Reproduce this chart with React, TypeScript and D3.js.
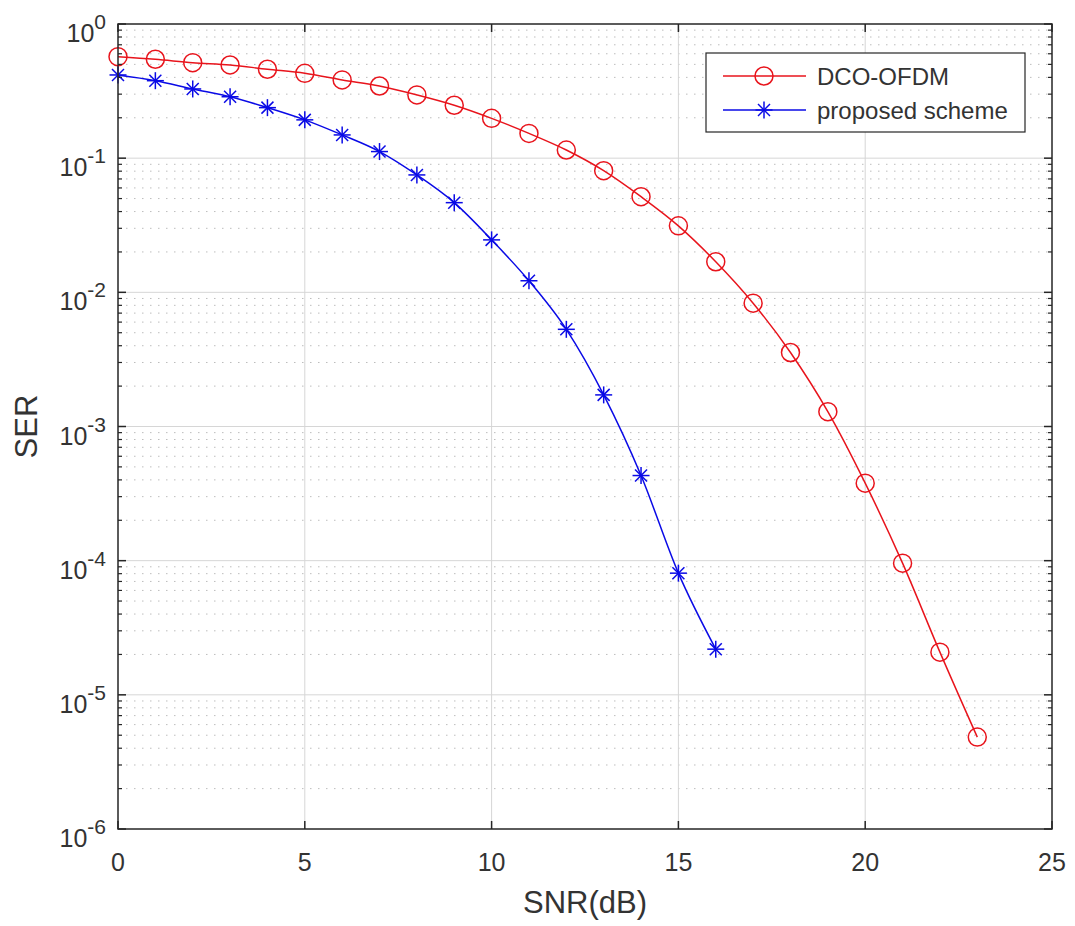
import React from "react";
import * as d3 from "d3";

const snrDco = [0, 1, 2, 3, 4, 5, 6, 7, 8, 9, 10, 11, 12, 13, 14, 15, 16, 17, 18, 19, 20, 21, 22, 23];
const serDco = [0.571, 0.546, 0.515, 0.495, 0.46, 0.429, 0.383, 0.345, 0.296, 0.248, 0.198, 0.153, 0.115, 0.0807, 0.0516, 0.0313, 0.0169, 0.0083, 0.00356, 0.00129, 3.78e-4, 9.58e-5, 2.08e-5, 4.84e-6];
const snrProp = [0, 1, 2, 3, 4, 5, 6, 7, 8, 9, 10, 11, 12, 13, 14, 15, 16];
const serProp = [0.417, 0.378, 0.328, 0.287, 0.238, 0.193, 0.149, 0.112, 0.075, 0.0466, 0.0246, 0.0122, 0.0053, 0.00172, 4.31e-4, 8.07e-5, 2.19e-5];
const xTicks = [0, 5, 10, 15, 20, 25];
const yExps = [0, -1, -2, -3, -4, -5, -6];
const seriesNames = ["DCO-OFDM", "proposed scheme"];

const W = 1075, H = 926;
const L = 118, R = 1052, T = 24, B = 829;
const FONT = "'Liberation Sans', Arial, Helvetica, sans-serif";
const AX = "#262626";
const TXT = "#333333";
const RED = "#e8141c";
const BLUE = "#0a0ae6";

function Star({ x, y, c }: { x: number; y: number; c: string }) {
  const a = 8.5, d = 6;
  return (
    <g stroke={c} strokeWidth={1.5}>
      <line x1={x - a} y1={y} x2={x + a} y2={y} />
      <line x1={x} y1={y - a} x2={x} y2={y + a} />
      <line x1={x - d} y1={y - d} x2={x + d} y2={y + d} />
      <line x1={x - d} y1={y + d} x2={x + d} y2={y - d} />
    </g>
  );
}

export default function App() {
  const x = d3.scaleLinear().domain([0, 25]).range([L, R]);
  const y = d3.scaleLog().domain([1e-6, 1]).range([B, T]);
  const line = d3
    .line<[number, number]>()
    .x((d) => x(d[0]))
    .y((d) => y(d[1]))
    .curve(d3.curveMonotoneX);
  const dcoPts: [number, number][] = snrDco.map((s, i) => [s, serDco[i]]);
  const propPts: [number, number][] = snrProp.map((s, i) => [s, serProp[i]]);

  const minors: number[] = [];
  yExps.slice(1).forEach((e) => {
    for (let m = 2; m <= 9; m++) minors.push(m * Math.pow(10, e));
  });

  const lx = 706, ly = 53, lw = 319, lh = 79;

  return (
    <svg width={W} height={H} style={{ position: "absolute", left: 0, top: 0, background: "#fff" }} fontFamily={FONT}>
      <rect x={0} y={0} width={W} height={H} fill="#fff" />
      {/* minor grid */}
      {minors.map((v, i) => (
        <line key={"mg" + i} x1={L} x2={R} y1={y(v)} y2={y(v)} stroke="#bdbdbd" strokeWidth={1} strokeDasharray="1.5,6.5" />
      ))}
      {/* major grid */}
      {yExps.slice(1, -1).map((e) => (
        <line key={"yg" + e} x1={L} x2={R} y1={y(Math.pow(10, e))} y2={y(Math.pow(10, e))} stroke="#d6d6d6" strokeWidth={1} />
      ))}
      {xTicks.slice(1, -1).map((t) => (
        <line key={"xg" + t} x1={x(t)} x2={x(t)} y1={T} y2={B} stroke="#d6d6d6" strokeWidth={1} />
      ))}
      {/* lines */}
      <path d={line(dcoPts) || ""} fill="none" stroke={RED} strokeWidth={1.5} />
      <path d={line(propPts) || ""} fill="none" stroke={BLUE} strokeWidth={1.5} />
      {dcoPts.map((p, i) => (
        <circle key={"c" + i} cx={x(p[0])} cy={y(p[1])} r={9} fill="none" stroke={RED} strokeWidth={1.5} />
      ))}
      {propPts.map((p, i) => (
        <Star key={"s" + i} x={x(p[0])} y={y(p[1])} c={BLUE} />
      ))}
      {/* axes box */}
      <rect x={L} y={T} width={R - L} height={B - T} fill="none" stroke={AX} strokeWidth={1.5} />
      {/* x ticks */}
      {xTicks.map((t) => (
        <g key={"xt" + t}>
          <line x1={x(t)} x2={x(t)} y1={B} y2={B - 8} stroke={AX} strokeWidth={1.5} />
          <line x1={x(t)} x2={x(t)} y1={T} y2={T + 8} stroke={AX} strokeWidth={1.5} />
          <text x={x(t)} y={871} fontSize={25} textAnchor="middle" fill={TXT}>{t}</text>
        </g>
      ))}
      {/* y ticks */}
      {yExps.map((e) => {
        const yy = y(Math.pow(10, e));
        return (
          <g key={"yt" + e}>
            <line x1={L} x2={L + 8} y1={yy} y2={yy} stroke={AX} strokeWidth={1.5} />
            <line x1={R} x2={R - 8} y1={yy} y2={yy} stroke={AX} strokeWidth={1.5} />
            <text x={106} y={yy + 18} fontSize={25} textAnchor="end" fill={TXT}>
              10<tspan fontSize={21} dy={-13}>{e}</tspan>
            </text>
          </g>
        );
      })}
      {minors.map((v, i) => (
        <g key={"mt" + i}>
          <line x1={L} x2={L + 4} y1={y(v)} y2={y(v)} stroke={AX} strokeWidth={1.2} />
          <line x1={R} x2={R - 4} y1={y(v)} y2={y(v)} stroke={AX} strokeWidth={1.2} />
        </g>
      ))}
      {/* axis labels */}
      <text x={(L + R) / 2} y={913} fontSize={31} textAnchor="middle" fill={TXT}>SNR(dB)</text>
      <text transform={`translate(37,${(T + B) / 2}) rotate(-90)`} fontSize={31} textAnchor="middle" fill={TXT}>SER</text>
      {/* legend */}
      <rect x={lx} y={ly} width={lw} height={lh} fill="#fff" stroke={AX} strokeWidth={1.2} />
      <line x1={723} x2={806} y1={76} y2={76} stroke={RED} strokeWidth={1.5} />
      <circle cx={764} cy={76} r={9} fill="none" stroke={RED} strokeWidth={1.5} />
      <text x={817} y={85} fontSize={24} fill={TXT}>{seriesNames[0]}</text>
      <line x1={723} x2={806} y1={110} y2={110} stroke={BLUE} strokeWidth={1.5} />
      <Star x={764} y={110} c={BLUE} />
      <text x={817} y={119} fontSize={24} fill={TXT}>{seriesNames[1]}</text>
    </svg>
  );
}
